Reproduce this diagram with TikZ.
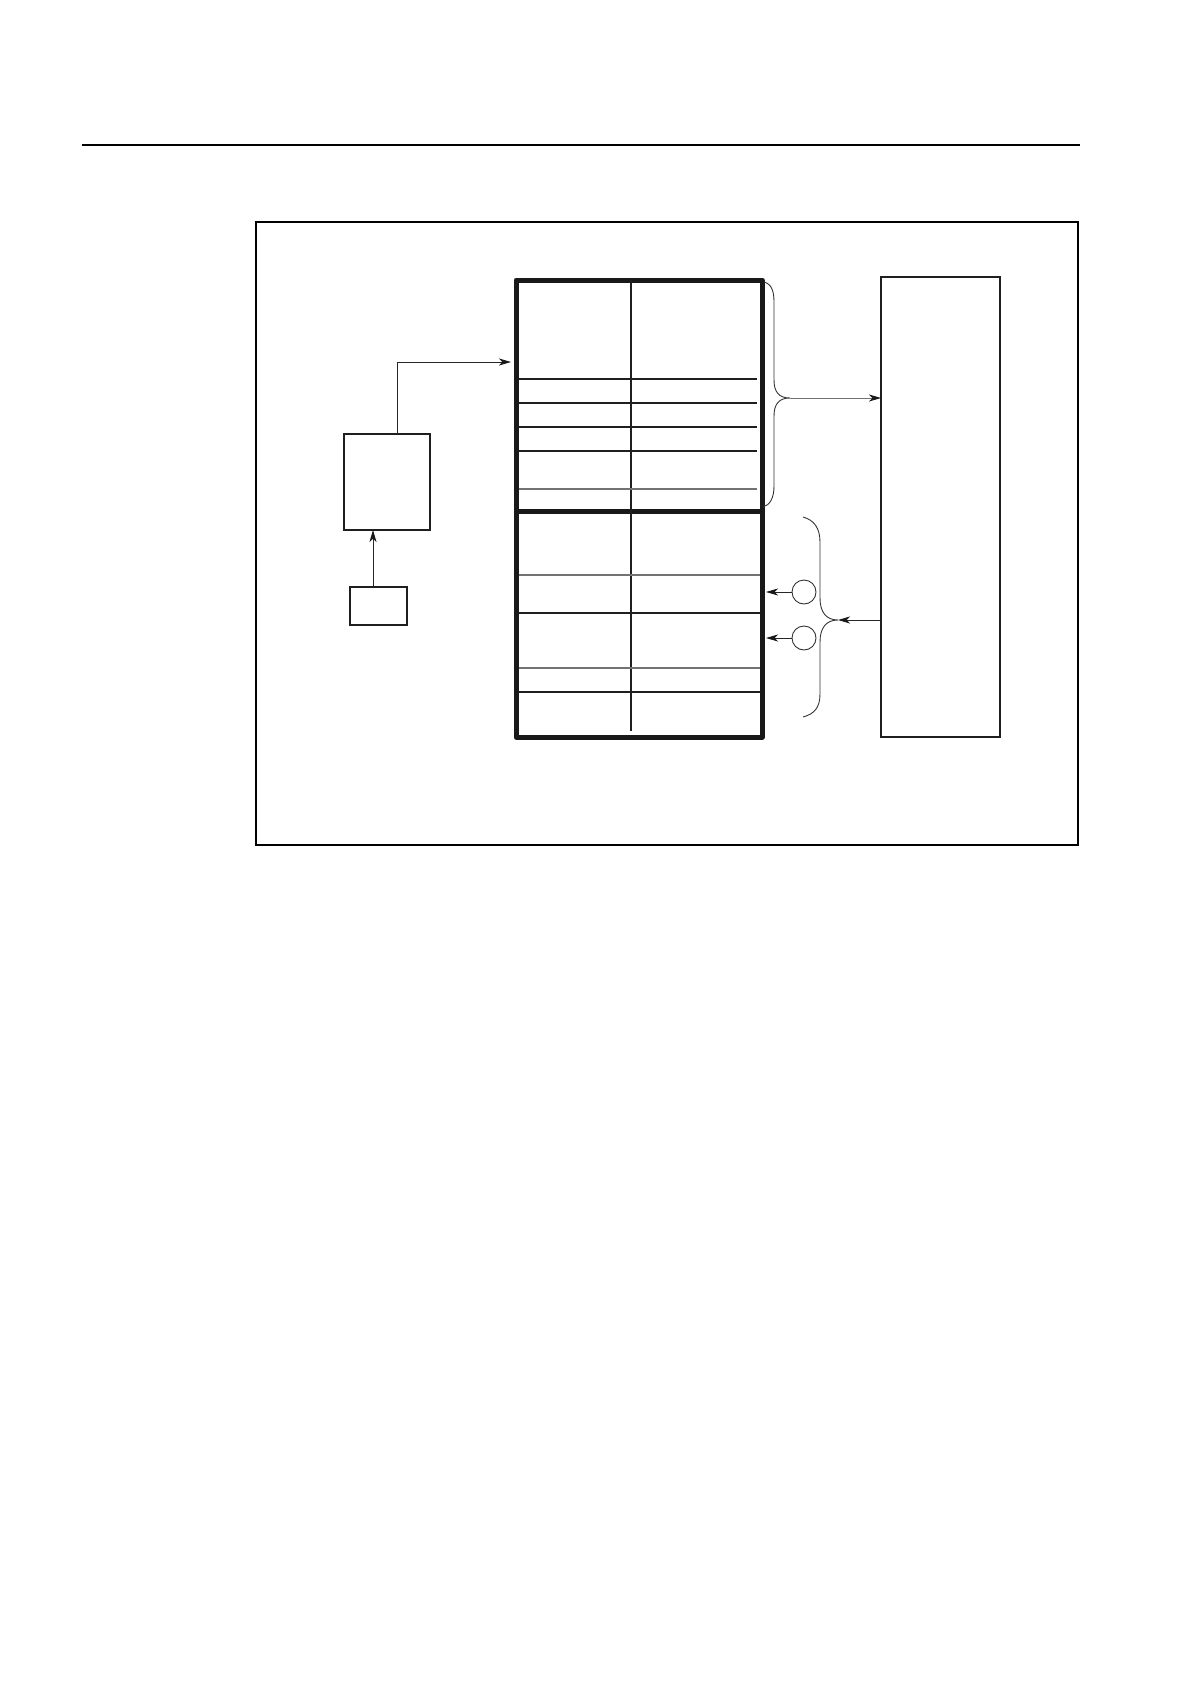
\documentclass[tikz,border=0pt]{standalone}
\usetikzlibrary{arrows.meta}
\begin{document}
\begin{tikzpicture}[x=1pt,y=-1pt,
  thin line/.style={line width=1.1pt, draw=black!88},
  boxnode/.style={draw=black!88, line width=1.2pt, rectangle, inner sep=0pt, outer sep=0pt},
  tblnode/.style={draw=black!90, line width=5pt, rectangle, inner sep=0pt, outer sep=0pt, line join=round},
  ringnode/.style={draw=black!80, line width=0.9pt, circle, inner sep=0pt, outer sep=0pt, minimum size=24pt},
  conn/.style={line width=0.9pt, draw=black!85, -{Stealth[length=12pt,width=7pt,inset=3.5pt,black!90]}},
  bracepath/.style={line width=0.9pt, draw=black!80},
  faint/.style={line width=1.1pt, draw=black!55}
]
\useasboundingbox (0,0) rectangle (1190,1684);
% header rule and frame
\draw[line width=1.3pt] (82,145) -- (1080,145);
\draw[line width=1.8pt] (256,222) rectangle (1078,845);

% table
\node[tblnode, minimum width=246pt, minimum height=457pt] (tbl) at (639,508.5) {};
\draw[line width=5pt, draw=black!90] (516,511) -- (762,511);
\draw[thin line] (631,280) -- (631,731);
\foreach \yy in {379,403,427,451} \draw[thin line] (519,\yy) -- (757,\yy);
\draw[faint] (519,489) -- (757,489);
\draw[faint] (519,575) -- (760,575);
\draw[thin line] (519,613) -- (760,613);
\draw[faint] (519,668) -- (760,668);
\draw[thin line] (519,692) -- (760,692);

% left boxes
\node[boxnode, minimum width=86pt, minimum height=96pt] (b1) at (387,482) {};
\node[boxnode, minimum width=57pt, minimum height=38pt] (sb) at (378.5,606) {};
\coordinate (tin) at (516,362);
\draw[conn, shorten >=5pt] ([xshift=10pt]b1.north) |- (tin);
\draw[conn] ([xshift=-5.5pt]sb.north) -- ([xshift=-5.5pt]sb.north |- b1.south);

% right box
\node[boxnode, minimum width=119pt, minimum height=460pt] (rb) at (940.5,507) {};

% braces
\coordinate (ub) at (790,398);
\coordinate (lb) at (838,620);
\draw[bracepath] (764,282) .. controls (772,284) and (774,292) .. (774,302) -- (774,380)
  .. controls (774,392) and (779,398) .. (ub)
  .. controls (779,398) and (774,404) .. (774,416) -- (774,486)
  .. controls (774,498) and (770,505) .. (763,507);
\draw[bracepath] (803,517) .. controls (814,520) and (820,528) .. (820,542) -- (820,598)
  .. controls (820,612) and (826,620) .. (lb)
  .. controls (826,620) and (820,628) .. (820,642) -- (820,694)
  .. controls (820,708) and (814,714) .. (803,717);
\draw[conn, draw=black!55] (ub) -- (ub -| rb.west);
\draw[conn] (rb.west |- lb) -- (lb);

% circles
\node[ringnode] (c1) at (804,592) {};
\node[ringnode] (c2) at (804,638) {};
\draw[conn, shorten >=4pt] (c1.west) -- (c1.west -| tbl.east);
\draw[conn, shorten >=4pt] (c2.west) -- (c2.west -| tbl.east);
\end{tikzpicture}
\end{document}
